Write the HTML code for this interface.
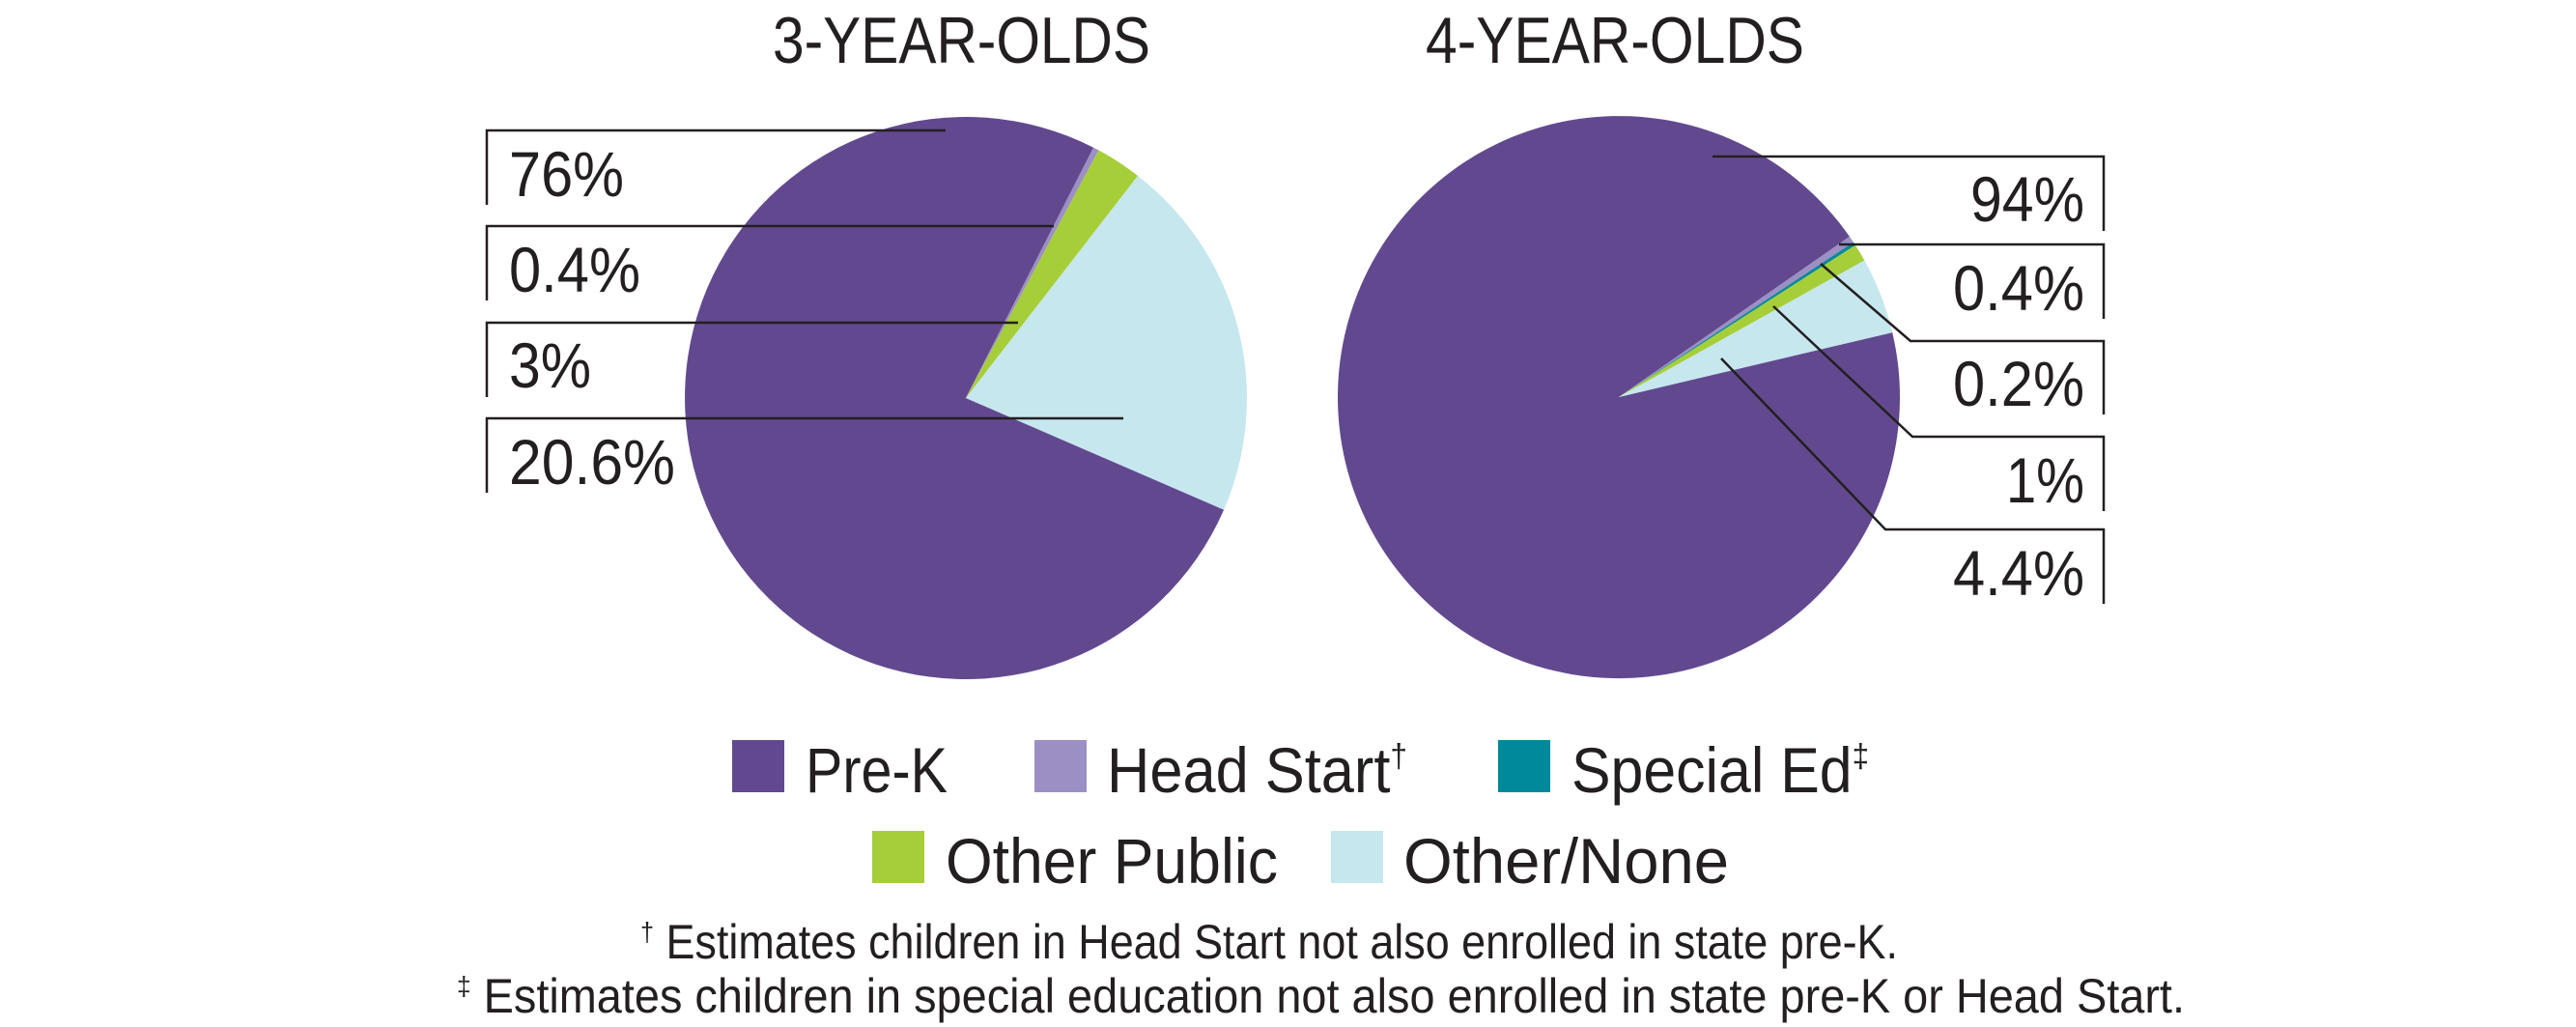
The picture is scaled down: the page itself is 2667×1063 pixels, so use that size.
<!DOCTYPE html>
<html><head><meta charset="utf-8"><style>
html,body{margin:0;padding:0;background:#fff;}
svg{display:block;}
text{font-family:"Liberation Sans",sans-serif;fill:#231f20;}
</style></head><body>
<svg width="2667" height="1063" viewBox="0 0 2667 1063" xmlns="http://www.w3.org/2000/svg">
<text x="800" y="65" font-size="68" textLength="391" lengthAdjust="spacingAndGlyphs">3-YEAR-OLDS</text>
<text x="1476" y="65" font-size="68" textLength="392" lengthAdjust="spacingAndGlyphs">4-YEAR-OLDS</text>

<path d="M1000,412 L1267.1,527.6 A291,291 0 1 1 1132.1,152.7 Z" fill="#62498f"/>
<path d="M1000,412 L1132.1,152.7 A291,291 0 0 1 1137.5,155.5 Z" fill="#9b8fc4"/>
<path d="M1000,412 L1137.5,155.5 A291,291 0 0 1 1178.0,182.0 Z" fill="#a6ce39"/>
<path d="M1000,412 L1178.0,182.0 A291,291 0 0 1 1267.1,527.6 Z" fill="#c6e7ee"/>

<path d="M1676,411 L1959.2,344.1 A291,291 0 1 1 1914.9,244.9 Z" fill="#62498f"/>
<path d="M1676,411 L1914.9,244.9 A291,291 0 0 1 1918.9,250.8 Z" fill="#9b8fc4"/>
<path d="M1676,411 L1918.9,250.8 A291,291 0 0 1 1920.9,253.8 Z" fill="#00899a"/>
<path d="M1676,411 L1920.9,253.8 A291,291 0 0 1 1930.3,269.5 Z" fill="#a6ce39"/>
<path d="M1676,411 L1930.3,269.5 A291,291 0 0 1 1959.2,344.1 Z" fill="#c6e7ee"/>

<g stroke="#231f20" stroke-width="2.5" fill="none">
<polyline points="979,135 504,135 504,212"/>
<polyline points="1091,234 504,234 504,311"/>
<polyline points="1054,334 504,334 504,411"/>
<polyline points="1163,433 504,433 504,510"/>
<polyline points="1773,162 2178,162 2178,239"/>
<polyline points="1904,253 2178,253 2178,330"/>
<polyline points="1885,273 1978,353 2178,353 2178,429"/>
<polyline points="1836,317 1980,452 2178,452 2178,529"/>
<polyline points="1782,371 1952,548 2178,548 2178,625"/>
</g>
<g font-size="66">
<text x="527" y="203" textLength="119" lengthAdjust="spacingAndGlyphs">76%</text>
<text x="527" y="302" textLength="136" lengthAdjust="spacingAndGlyphs">0.4%</text>
<text x="527" y="401" textLength="85" lengthAdjust="spacingAndGlyphs">3%</text>
<text x="527" y="501" textLength="172" lengthAdjust="spacingAndGlyphs">20.6%</text>
<text x="2040" y="229" textLength="118" lengthAdjust="spacingAndGlyphs">94%</text>
<text x="2022" y="321" textLength="136" lengthAdjust="spacingAndGlyphs">0.4%</text>
<text x="2022" y="420" textLength="136" lengthAdjust="spacingAndGlyphs">0.2%</text>
<text x="2077" y="520" textLength="81" lengthAdjust="spacingAndGlyphs">1%</text>
<text x="2022" y="616" textLength="136" lengthAdjust="spacingAndGlyphs">4.4%</text>
</g>

<rect x="758" y="766" width="54" height="54" fill="#62498f"/>
<rect x="1071" y="766" width="54" height="54" fill="#9b8fc4"/>
<rect x="1551" y="766" width="54" height="54" fill="#00899a"/>
<rect x="903" y="860" width="54" height="54" fill="#a6ce39"/>
<rect x="1378" y="860" width="54" height="54" fill="#c6e7ee"/>
<g font-size="66">
<text x="834" y="820" textLength="147" lengthAdjust="spacingAndGlyphs">Pre-K</text>
<text x="1146" y="820" textLength="311" lengthAdjust="spacingAndGlyphs">Head Start<tspan font-size="34" dy="-26">†</tspan></text>
<text x="1627" y="820" textLength="308" lengthAdjust="spacingAndGlyphs">Special Ed<tspan font-size="34" dy="-26">‡</tspan></text>
<text x="979" y="914" textLength="344" lengthAdjust="spacingAndGlyphs">Other Public</text>
<text x="1453" y="914" textLength="337" lengthAdjust="spacingAndGlyphs">Other/None</text>
</g>
<g font-size="50">
<text x="663" y="992" textLength="1302" lengthAdjust="spacingAndGlyphs"><tspan font-size="28" dy="-18">†</tspan><tspan dy="18"> Estimates children in Head Start not also enrolled in state pre-K.</tspan></text>
<text x="473" y="1048" textLength="1789" lengthAdjust="spacingAndGlyphs"><tspan font-size="28" dy="-18">‡</tspan><tspan dy="18"> Estimates children in special education not also enrolled in state pre-K or Head Start.</tspan></text>
</g>
</svg>
</body></html>
